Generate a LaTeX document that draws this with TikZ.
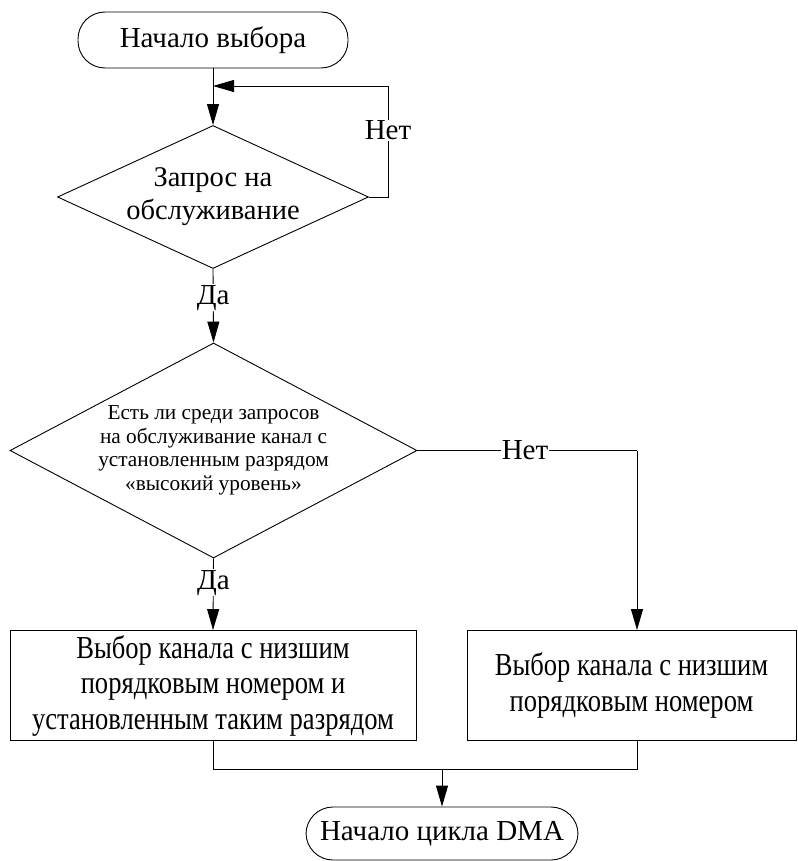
\documentclass[tikz,border=0pt]{standalone}
\usepackage{fontspec}
\setmainfont{Liberation Serif}
\newfontfamily\narrowfont[FakeStretch=0.83]{Liberation Serif}
\usetikzlibrary{arrows.meta,shapes.geometric}
\tikzset{
  term/.style={draw, rounded corners=27pt, minimum width=270pt, minimum height=56pt, inner sep=0pt, font=\fontsize{29}{33}\selectfont},
  decision/.style={draw, diamond, inner sep=0pt},
  dtextA/.style={align=center, inner sep=0pt, font=\fontsize{28.5}{33}\selectfont},
  dtextB/.style={align=center, inner sep=0pt, font=\fontsize{21.3}{23.5}\selectfont},
  procbox/.style={draw, minimum height=110pt, inner sep=0pt, align=center, font=\narrowfont\fontsize{32}{35.5}\selectfont},
  lbl/.style={fill=white, inner sep=1pt, font=\fontsize{29}{30}\selectfont},
  conn/.style={line width=0.9pt},
  arr/.style={conn, -{Triangle[length=21pt,width=12pt]}}
}
\begin{document}
\begin{tikzpicture}[x=1pt,y=1pt, line width=0.9pt]
\useasboundingbox (0,0) rectangle (797,-861);
\node[term] (start) at (213,-40) {Начало выбора};
\node[decision, minimum width=311pt, minimum height=143pt] (d1) at (213,-197) {};
\node[dtextA] (d1t) at (d1.center) {Запрос на\\обслуживание};
\node[decision, minimum width=407pt, minimum height=215pt] (d2) at (213.5,-450.5) {};
\node[dtextB] (d2t) at (d2.center) {Есть ли среди запросов\\на обслуживание канал с\\установленным разрядом\\«высокий уровень»};
\node[procbox, minimum width=406pt] (b1) at (213,-685.5) {Выбор канала с низшим\\порядковым номером и\\установленным таким разрядом};
\node[procbox, minimum width=329pt] (b2) at (631.5,-685.5) {Выбор канала с низшим\\порядковым номером};
\node[term, minimum width=272pt, minimum height=53pt] (end) at (442,-833.5) {Начало цикла DMA};
\coordinate (j1) at (213,-86);
\coordinate (r1) at (388,-197);
\coordinate (r1t) at (388,-86);
\coordinate (c2) at (637,-450.5);
\coordinate (m) at (442,-769);
\draw[conn] (start.south) -- (j1);
\draw[arr] (j1) -- (d1.north);
\draw[conn] (d1.east) -- (r1) -- node[lbl, pos=0.6] {Нет} (r1t);
\draw[arr] (r1t) -- (j1);
\draw[arr] (d1.south) -- node[lbl, pos=0.39] {Да} (d2.north);
\draw[arr] (d2.south) -- node[lbl, pos=0.34] {Да} (b1.north);
\draw[conn] (d2.east) -- node[lbl, pos=0.49] {Нет} (c2);
\draw[arr] (c2) -- (c2 |- b2.north);
\draw[conn] (b1.south) -- (b1.south |- m) -- (c2 |- m) -- (c2 |- b2.south);
\draw[arr] (m) -- (end.north);
\end{tikzpicture}
\end{document}
